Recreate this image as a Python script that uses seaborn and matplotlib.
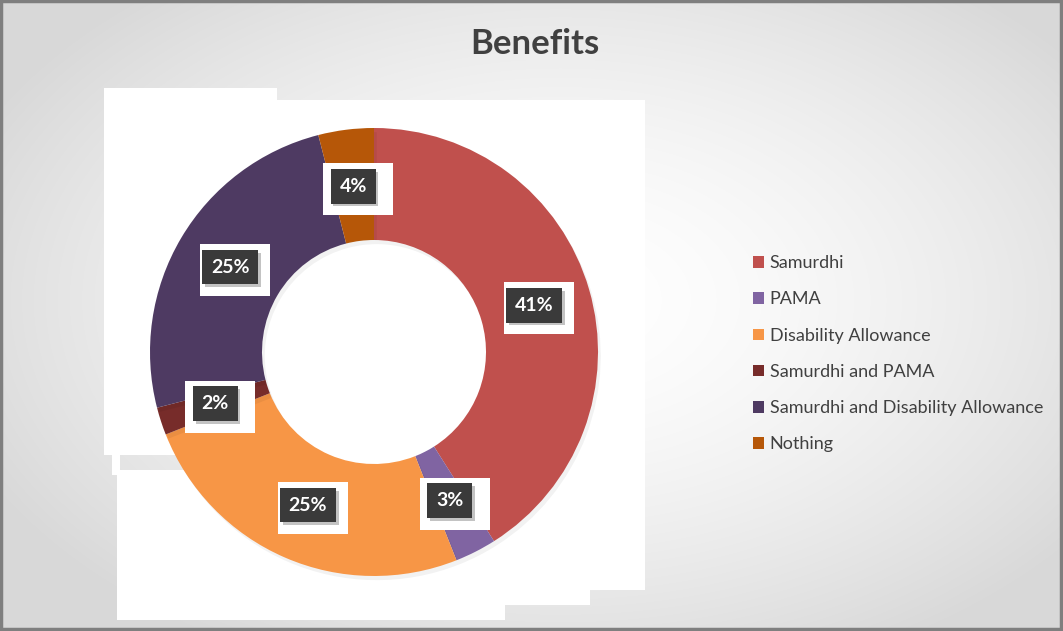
import numpy as np
import matplotlib
matplotlib.use("Agg")
import matplotlib.pyplot as plt
import matplotlib.patheffects as pe
from matplotlib.patches import Rectangle, Patch
import seaborn as sns

# Benefit categories and their shares (%)
categories = ["Samurdhi", "PAMA", "Disability Allowance", "Samurdhi and PAMA",
              "Samurdhi and Disability Allowance", "Nothing"]
shares = [41, 3, 25, 2, 25, 4]
colors = ["#C0504D", "#8064A2", "#F79646", "#772C2A", "#4E3A62", "#B65708"]
title = "Benefits"

sns.set_theme(style="white")
palette = sns.color_palette(colors)
plt.rcParams["font.family"] = ["Lato", "DejaVu Sans"]

W, H = 1063, 631
fig = plt.figure(figsize=(W / 100, H / 100), dpi=100)

# Background: soft radial gradient, white near the middle, grey at the edges
bg = fig.add_axes([0, 0, 1, 1], zorder=0)
yy, xx = np.mgrid[0:H, 0:W]
r = np.sqrt(((xx - 560) / 640.0) ** 2 + ((yy - 300) / 400.0) ** 2)
shade = 1.0 - 0.15 * np.clip(r, 0, 1) ** 1.6
bg.imshow(np.dstack([shade] * 3), extent=[0, W, H, 0], aspect="auto")
for (x0, y0, x1, y1) in [(104, 88, 277, 455), (112, 455, 120, 475),
                         (117, 470, 505, 620), (505, 470, 590, 605),
                         (277, 100, 645, 590)]:
    bg.add_patch(Rectangle((x0, y0), x1 - x0, y1 - y0, facecolor="white",
                           edgecolor="none"))
bg.add_patch(Rectangle((1, 1), W - 3, H - 3, facecolor="none",
                       edgecolor="#7f7f7f", linewidth=2.5))
bg.set_xlim(0, W)
bg.set_ylim(H, 0)
bg.axis("off")

fig.text(535 / W, 1 - 44 / H, title, ha="center", va="center",
         fontsize=25, fontweight="bold", color="#404040", zorder=5)

# Donut
cx, cy, R = 374, 352, 224
ax = fig.add_axes([(cx - R) / W, (H - cy - R) / H, 2 * R / W, 2 * R / H], zorder=2)
ax.set_facecolor("none")
wedges, _ = ax.pie(shares, colors=palette, startangle=90, counterclock=False,
                   radius=1.0, wedgeprops=dict(width=0.5, edgecolor="none"))
for w in wedges:
    w.set_path_effects([pe.SimplePatchShadow(offset=(2, -3), shadow_rgbFace="#000000",
                                             alpha=0.05), pe.Normal()])
ax.set_xlim(-1, 1)
ax.set_ylim(-1, 1)
ax.axis("off")

# Percentage labels on each ring segment: white backing card + dark tag
px = 1.0 / R
start = 90.0
for val in shares:
    mid = np.deg2rad(start - val * 3.6 / 2)
    start -= val * 3.6
    x, y = 0.745 * np.cos(mid), 0.745 * np.sin(mid)
    ax.add_patch(Rectangle((x - 30 * px, y - 29 * px), 70 * px, 52 * px,
                           facecolor="white", edgecolor="none", zorder=3))
    t = ax.text(x, y, f"{val}%", ha="center", va="center", fontsize=14,
                fontweight="bold", color="white", zorder=4,
                bbox=dict(boxstyle="square,pad=0.45", facecolor="#3a3a3a",
                          edgecolor="none"))
    t.get_bbox_patch().set_path_effects([pe.SimplePatchShadow(offset=(2, -2), alpha=0.25),
                                         pe.Normal()])

handles = [Patch(facecolor=c, edgecolor="none") for c in palette]
fig.legend(handles, categories, loc="upper left",
           bbox_to_anchor=(737 / W, 1 - 239 / H), frameon=False,
           fontsize=13, labelcolor="#404040", handlelength=0.6,
           handleheight=0.6, handletextpad=0.3, labelspacing=1.12)

fig.savefig("out.png", dpi=100)
